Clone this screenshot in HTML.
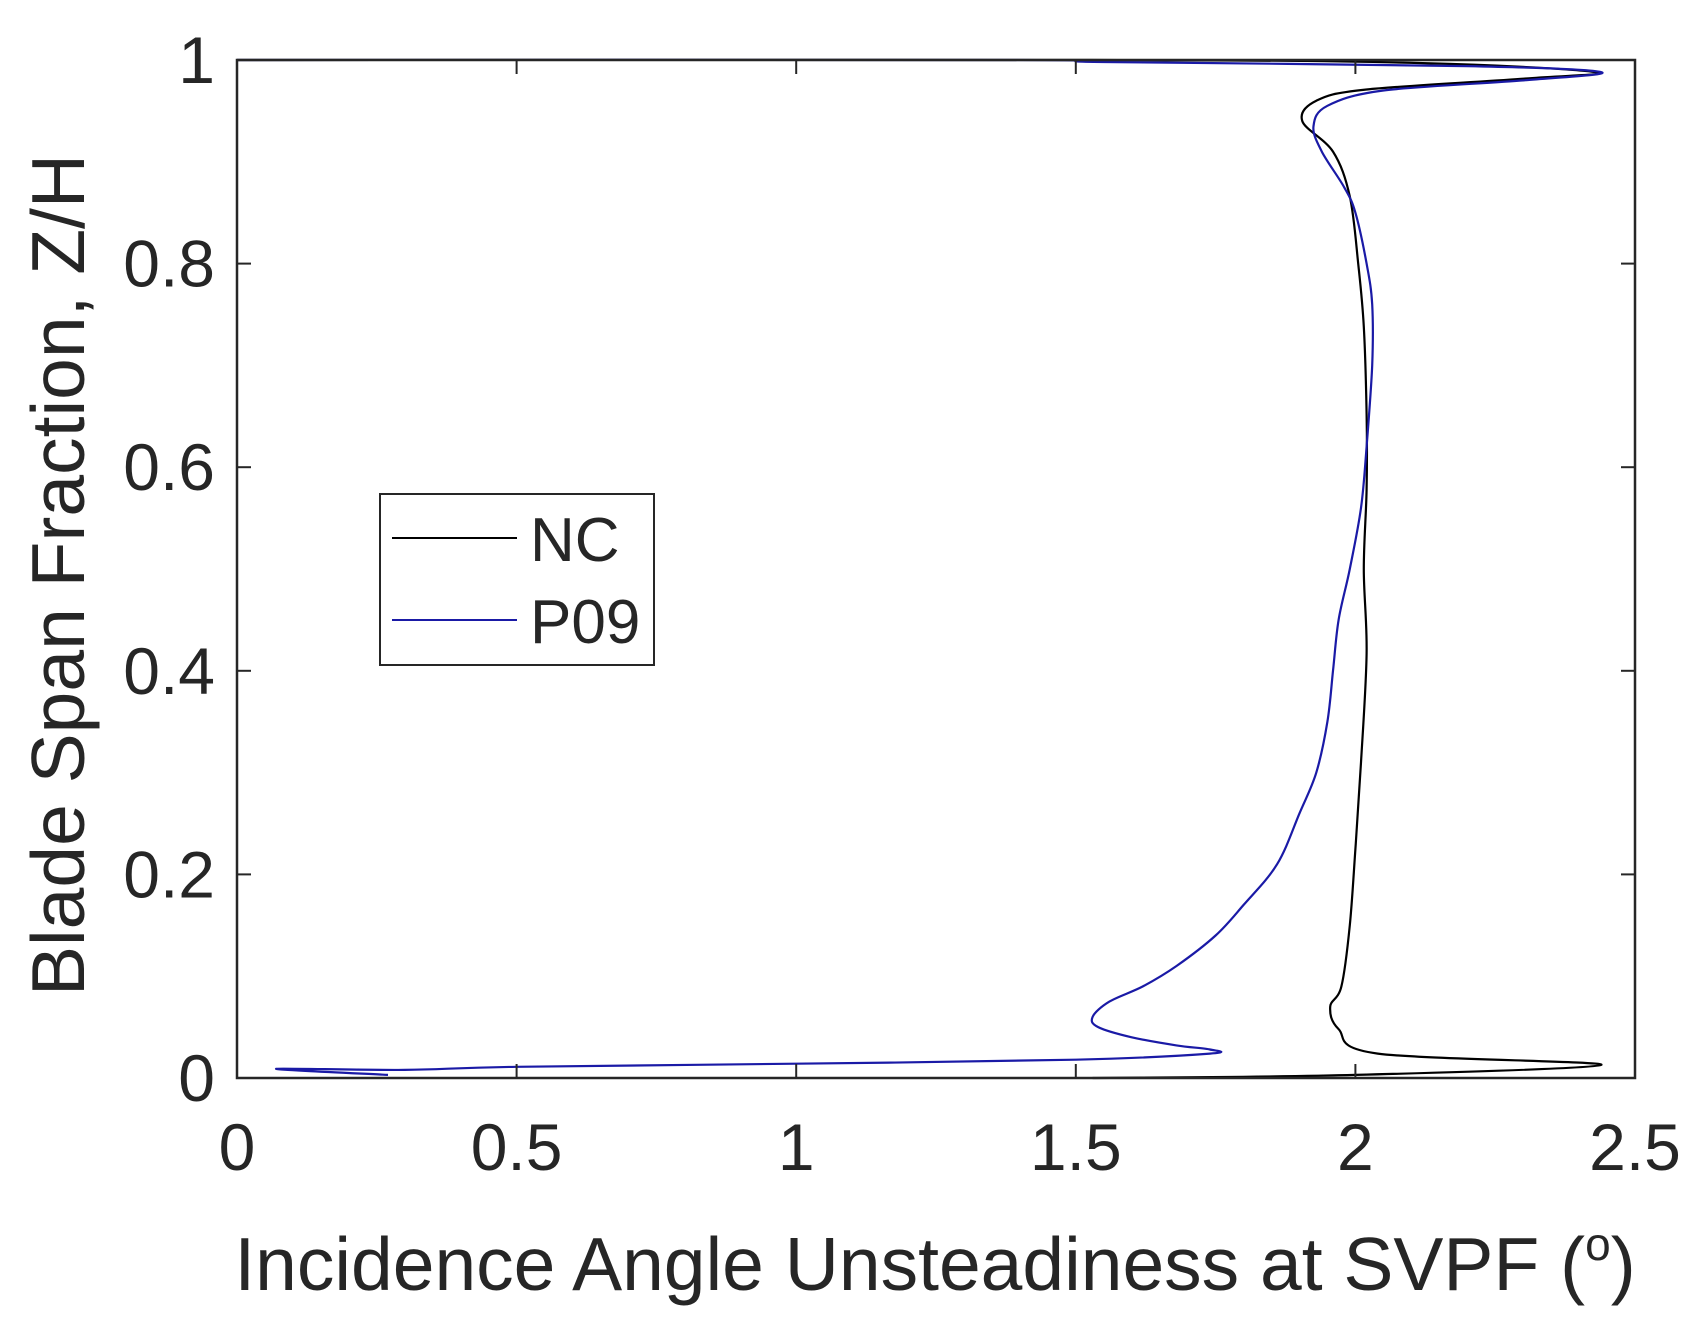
<!DOCTYPE html>
<html><head><meta charset="utf-8"><style>
html,body{margin:0;padding:0;background:#fff}
svg{display:block}
text{font-family:"Liberation Sans",sans-serif;fill:#262626}
</style></head><body>
<svg id="chart" width="1707" height="1339" viewBox="0 0 1707 1339">
<rect x="0" y="0" width="1707" height="1339" fill="#fff"/>
<g id="plot"></g>
<g id="axes"></g>
<text x="935" y="1290" text-anchor="middle" font-size="75">Incidence Angle Unsteadiness at SVPF (<tspan dy="-30" font-size="46">o</tspan><tspan dy="30">)</tspan></text>
<text transform="translate(84,575) rotate(-90)" text-anchor="middle" font-size="75">Blade Span Fraction, Z/H</text>
<g>
<rect x="380" y="494" width="274" height="171" fill="#fff" stroke="#262626" stroke-width="2"/>
<line x1="392" y1="538" x2="517" y2="538" stroke="#000" stroke-width="2"/>
<text x="530" y="561" font-size="62" fill="#000">NC</text>
<line x1="392" y1="620" x2="517" y2="620" stroke="#1a1aa6" stroke-width="2"/>
<text x="530" y="643" font-size="62" fill="#000">P09</text>
</g>
</svg>
<script>
const xTicks=[0,0.5,1,1.5,2,2.5];
const xTickLabels=["0","0.5","1","1.5","2","2.5"];
const yTicks=[0,0.2,0.4,0.6,0.8,1];
const yTickLabels=["0","0.2","0.4","0.6","0.8","1"];
const ncX=[1.53,2.0,2.44,2.04,1.97,1.955,1.975,1.99,2.0,2.01,2.02,2.015,2.02,2.02,2.015,2.005,1.99,1.96,1.905,1.93,2.02,2.31,2.43,2.12,1.53,0];
const ncY=[0.0,0.003,0.013,0.024,0.048,0.07,0.09,0.15,0.225,0.31,0.417,0.5,0.578,0.652,0.738,0.80,0.866,0.91,0.94,0.96,0.971,0.982,0.988,0.997,1.0,1.0];
const p09X=[0.27,0.07,0.3,0.5,1.0,1.5,1.74,1.74,1.68,1.6,1.54,1.53,1.56,1.62,1.68,1.75,1.8,1.86,1.9,1.93,1.95,1.96,1.97,1.99,2.01,2.02,2.03,2.03,2.02,2.0,1.98,1.94,1.925,1.95,2.05,2.3,2.44,2.2,1.55,1.37,0];
const p09Y=[0.003,0.009,0.008,0.011,0.014,0.018,0.024,0.028,0.032,0.04,0.05,0.06,0.075,0.09,0.11,0.14,0.17,0.21,0.26,0.3,0.35,0.4,0.45,0.5,0.56,0.62,0.7,0.76,0.8,0.85,0.875,0.91,0.935,0.955,0.97,0.98,0.988,0.994,0.998,1.0,1.0];
const L=237,R=1635,T=60,B=1078;
const sx=v=>L+(v-0)/(2.5-0)*(R-L);
const sy=v=>B-(v-0)/(1-0)*(B-T);
const NS="http://www.w3.org/2000/svg";
const plot=document.getElementById('plot'),axes=document.getElementById('axes');
function mk(tag,attrs,parent){const e=document.createElementNS(NS,tag);for(const k in attrs)e.setAttribute(k,attrs[k]);parent.appendChild(e);return e;}
function line(xs,ys,color,name){
  const P=xs.map((x,i)=>[sx(x),sy(ys[i])]);
  let d='M'+P[0][0].toFixed(1)+','+P[0][1].toFixed(1);
  for(let i=0;i<P.length-1;i++){
    const p0=P[Math.max(0,i-1)],p1=P[i],p2=P[i+1],p3=P[Math.min(P.length-1,i+2)];
    const c1=[p1[0]+(p2[0]-p0[0])/6,p1[1]+(p2[1]-p0[1])/6];
    const c2=[p2[0]-(p3[0]-p1[0])/6,p2[1]-(p3[1]-p1[1])/6];
    d+=' C'+c1.map(v=>v.toFixed(1)).join(',')+' '+c2.map(v=>v.toFixed(1)).join(',')+' '+p2.map(v=>v.toFixed(1)).join(',');
  }
  const p=mk('path',{d:d,fill:'none',stroke:color,'stroke-width':2.2,'stroke-linejoin':'round'},plot);
  
  
}
line(ncX,ncY,'#000','series-nc');
line(p09X,p09Y,'#1a1aa6','series-p09');
const box=mk('rect',{x:L,y:T,width:R-L,height:B-T,fill:'none',stroke:'#262626','stroke-width':2.5},axes);


xTicks.forEach((v,i)=>{
  const x=sx(v);
  mk('line',{x1:x,y1:B,x2:x,y2:B-14,stroke:'#262626','stroke-width':2},axes);
  mk('line',{x1:x,y1:T,x2:x,y2:T+14,stroke:'#262626','stroke-width':2},axes);
  const t=mk('text',{x:x,y:1170,'text-anchor':'middle','font-size':66},axes);
  t.textContent=xTickLabels[i];
  
  
});
yTicks.forEach((v,i)=>{
  const y=sy(v);
  mk('line',{x1:L,y1:y,x2:L+14,y2:y,stroke:'#262626','stroke-width':2},axes);
  mk('line',{x1:R,y1:y,x2:R-14,y2:y,stroke:'#262626','stroke-width':2},axes);
  const t=mk('text',{x:215,y:y+23,'text-anchor':'end','font-size':66},axes);
  t.textContent=yTickLabels[i];
  
  
});
</script>
</body></html>
